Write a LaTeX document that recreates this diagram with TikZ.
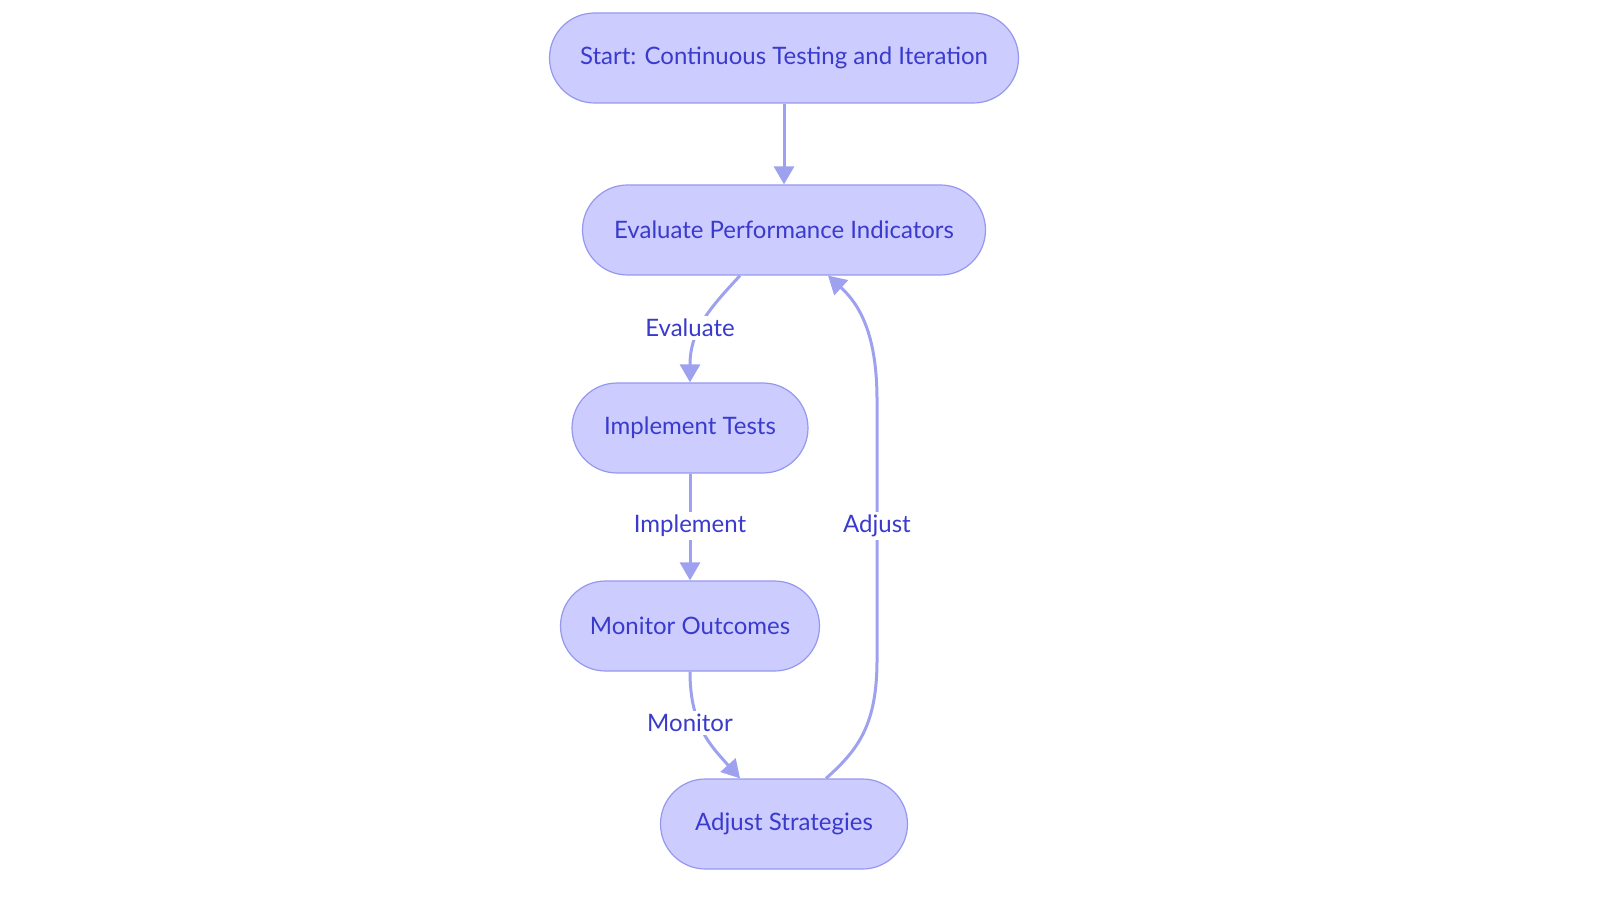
\documentclass[tikz,border=0pt]{standalone}
\usepackage{fontspec}
\setmainfont{Lato}
\usetikzlibrary{arrows.meta,calc}
\definecolor{nodefill}{RGB}{204,204,254}
\definecolor{nodedraw}{RGB}{150,152,238}
\definecolor{edgec}{RGB}{158,161,240}
\definecolor{textc}{RGB}{58,58,205}
\tikzset{
  box/.style={draw=nodedraw, line width=0.6pt, fill=nodefill, rounded corners=22.5pt,
    minimum height=45pt, inner sep=0pt, text=textc, font=\fontsize{12}{14}\selectfont},
  conn/.style={draw=edgec, line width=1.5pt, -{Triangle[length=9pt,width=10pt]}},
  lbl/.style={fill=white, inner sep=1.5pt, text=textc, font=\fontsize{12}{14}\selectfont}
}
\begin{document}
\begin{tikzpicture}[x=0.5pt,y=-0.5pt]
\useasboundingbox (0,0) rectangle (1600,903);
\node[box, minimum width=234.5pt] (start) at (784,58) {Start: Continuous Testing and Iteration};
\node[box, minimum width=201.5pt] (eval) at (784,230) {Evaluate Performance Indicators};
\node[box, minimum width=118pt] (impl) at (690,428) {Implement Tests};
\node[box, minimum width=129.5pt] (mon) at (690,626) {Monitor Outcomes};
\node[box, minimum width=123.5pt] (adj) at (784,824) {Adjust Strategies};
\coordinate (e1) at ($(eval.south)+(-44,0)$);
\coordinate (e2) at ($(eval.south)+(44,0)$);
\coordinate (a1) at ($(adj.north)+(-44,0)$);
\coordinate (a2) at ($(adj.north)+(42,0)$);
\draw[conn] (start) -- (eval);
\draw[conn] (e1) .. controls (710,308) and (690,330) .. (impl.north);
\draw[conn] (impl) -- (mon);
\draw[conn] (mon.south) .. controls (690,725) and (710,745) .. (a1);
\draw[conn] (a2) .. controls (858,750) and (877,725) .. (877,660) -- (877,400) .. controls (877,335) and (860,305) .. (e2);
\node[lbl] (l1) at (690,328) {Evaluate};
\node[lbl] (l2) at (690,526) {Implement};
\node[lbl] (l3) at (690,723) {Monitor};
\node[lbl] (l4) at (877,526) {Adjust};
\end{tikzpicture}
\end{document}
